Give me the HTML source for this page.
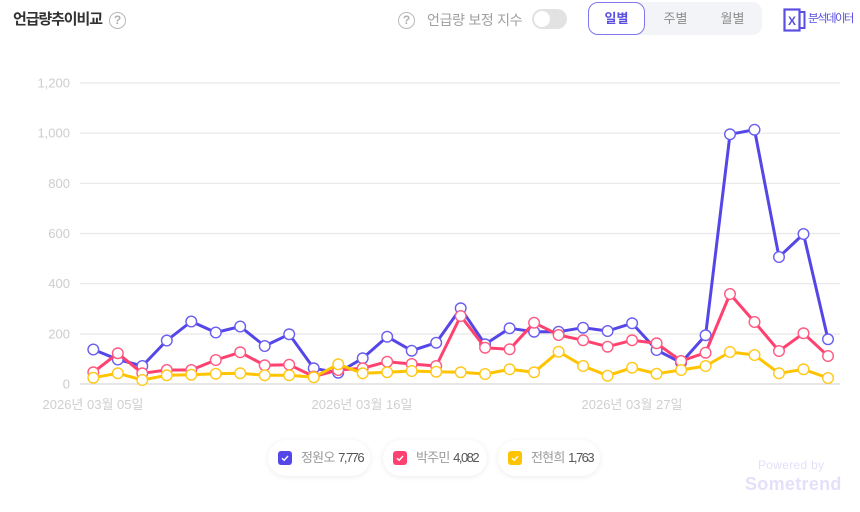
<!DOCTYPE html>
<html>
<head>
<meta charset="utf-8">
<style>
  html,body{margin:0;padding:0;background:#fff;}
  body{width:860px;height:512px;position:relative;overflow:hidden;font-family:"Liberation Sans","Noto Sans CJK KR",sans-serif;}
  .abs{position:absolute;}
  .title{left:13px;top:9px;font-size:15px;font-weight:bold;color:#333;letter-spacing:-1.1px;line-height:22px;}
  .q{width:15px;height:15px;border:1.8px solid #b8b8b8;border-radius:50%;color:#b0b0b0;font-size:12px;font-weight:bold;text-align:center;line-height:15px;}
  .lbl{left:427px;top:10px;font-size:14px;color:#a0a0a0;line-height:20px;letter-spacing:-0.3px;}
  .toggle{left:532px;top:9px;width:35px;height:20px;border-radius:10px;background:#e2e2e2;}
  .knob{left:2px;top:2px;width:16px;height:16px;border-radius:50%;background:#fff;}
  .seg{left:588px;top:2px;width:174px;height:33px;border-radius:10px;background:#f3f4f7;}
  .tab{top:0;height:33px;line-height:33px;font-size:13px;color:#8c8c8c;text-align:center;}
  .tab.active{left:0;width:55px;height:31px;line-height:31px;border:1.3px solid #8076f0;border-radius:10px;background:#fff;color:#5a4fe0;font-weight:bold;}
  .xl{left:808px;top:9px;font-size:11.5px;color:#5a4fe0;letter-spacing:-1.6px;line-height:20px;}
  .pill{top:440px;height:36px;border-radius:18px;background:#fff;box-shadow:0 1px 6px rgba(0,0,0,0.08);}
  .cb{position:absolute;left:10px;top:11px;width:14px;height:14px;border-radius:3px;}
  .pt{position:absolute;left:33px;top:9px;font-size:13px;line-height:18px;white-space:nowrap;}
  .pn{color:#9a9a9a;letter-spacing:-0.8px;}
  .pv{color:#555;letter-spacing:-1.5px;}
  .pw1{left:758px;top:458px;font-size:12px;color:#e4e0fa;letter-spacing:0.3px;}
  .pw2{left:745px;top:474px;font-size:18px;font-weight:bold;color:#e4e0fa;letter-spacing:0.3px;}
</style>
</head>
<body>
  <div class="abs title">언급량추이비교</div>
  <div class="abs q" style="left:109px;top:12px;">?</div>

  <div class="abs q" style="left:398px;top:12px;">?</div>
  <div class="abs lbl">언급량 보정 지수</div>
  <div class="abs toggle"><div class="abs knob"></div></div>

  <div class="abs seg">
    <div class="abs tab active">일별</div>
    <div class="abs tab" style="left:60px;width:55px;">주별</div>
    <div class="abs tab" style="left:117px;width:55px;">월별</div>
  </div>

  <svg class="abs" style="left:783px;top:8px;" width="24" height="24" viewBox="0 0 24 24">
    <rect x="1.5" y="1.5" width="15" height="21" fill="#fff" stroke="#5a4fe0" stroke-width="2.2"/>
    <path d="M17 4 L21.5 4 L21.5 20 L17 20" fill="none" stroke="#5a4fe0" stroke-width="2"/>
    <text x="9" y="17" text-anchor="middle" font-family="Liberation Sans, sans-serif" font-size="12" font-weight="bold" fill="#5a4fe0">X</text>
  </svg>
  <div class="abs xl">분석데이터</div>

  <svg class="abs" style="left:0;top:0;" width="860" height="430" viewBox="0 0 860 430">
    <defs>
      <marker id="mb" markerUnits="userSpaceOnUse" markerWidth="14" markerHeight="14" refX="7" refY="7" viewBox="0 0 14 14">
        <circle cx="7" cy="7" r="5.3" fill="#fff" stroke="#6a5ef0" stroke-width="1.4"/>
      </marker>
      <marker id="mr" markerUnits="userSpaceOnUse" markerWidth="14" markerHeight="14" refX="7" refY="7" viewBox="0 0 14 14">
        <circle cx="7" cy="7" r="5.3" fill="#fff" stroke="#ff5a82" stroke-width="1.4"/>
      </marker>
      <marker id="my" markerUnits="userSpaceOnUse" markerWidth="14" markerHeight="14" refX="7" refY="7" viewBox="0 0 14 14">
        <circle cx="7" cy="7" r="5.3" fill="#fff" stroke="#ffc81a" stroke-width="1.4"/>
      </marker>
    </defs>
    <g stroke="#e8e8e8" stroke-width="1.2">
      <line x1="80" y1="83" x2="840" y2="83"/>
      <line x1="80" y1="133.2" x2="840" y2="133.2"/>
      <line x1="80" y1="183.3" x2="840" y2="183.3"/>
      <line x1="80" y1="233.5" x2="840" y2="233.5"/>
      <line x1="80" y1="283.7" x2="840" y2="283.7"/>
      <line x1="80" y1="334" x2="840" y2="334"/>
    </g>
    <line x1="80" y1="384" x2="840" y2="384" stroke="#d6d6d6" stroke-width="1.2"/>
    <g font-family="Liberation Sans, sans-serif" font-size="13" fill="#cdcdcd" text-anchor="end">
      <text x="70" y="87.5">1,200</text>
      <text x="70" y="137.5">1,000</text>
      <text x="70" y="188">800</text>
      <text x="70" y="238">600</text>
      <text x="70" y="288">400</text>
      <text x="70" y="338.5">200</text>
      <text x="70" y="388.5">0</text>
    </g>
    <g font-family="Liberation Sans, Noto Sans CJK KR, sans-serif" font-size="13" fill="#cfcfcf" text-anchor="middle">
      <text x="93" y="409">2026년 03월 05일</text>
      <text x="362" y="409">2026년 03월 16일</text>
      <text x="632" y="409">2026년 03월 27일</text>
    </g>
    <polyline fill="none" stroke="#5546e8" stroke-width="3" stroke-linejoin="round" marker-start="url(#mb)" marker-mid="url(#mb)" marker-end="url(#mb)"
      points="93.3,349.5 117.8,359.5 142.3,366 166.8,340.5 191.3,321.5 215.8,332.5 240.2,326.5 264.7,346 289.2,334.3 313.7,368.3 338.2,372.7 362.7,358.3 387.2,336.7 411.7,350.7 436.2,342.7 460.7,308.3 485.1,344.3 509.6,328.3 534.1,331.7 558.6,331.7 583.1,327.7 607.6,331 632.1,323.3 656.6,350 681.1,362.7 705.6,335.3 730,134.3 754.5,129.7 779,257 803.5,234 828,339.3"/>
    <polyline fill="none" stroke="#ff4170" stroke-width="3" stroke-linejoin="round" marker-start="url(#mr)" marker-mid="url(#mr)" marker-end="url(#mr)"
      points="93.3,372.3 117.8,353.3 142.3,373.3 166.8,370 191.3,370 215.8,360 240.2,352.3 264.7,365.3 289.2,364.7 313.7,376.5 338.2,370 362.7,368.3 387.2,361.7 411.7,364 436.2,366 460.7,316 485.1,347.7 509.6,349.3 534.1,322.7 558.6,335 583.1,340.3 607.6,346.7 632.1,340.3 656.6,343.3 681.1,361 705.6,352.7 730,294 754.5,322 779,351 803.5,333.3 828,356"/>
    <polyline fill="none" stroke="#ffc400" stroke-width="3" stroke-linejoin="round" marker-start="url(#my)" marker-mid="url(#my)" marker-end="url(#my)"
      points="93.3,377.7 117.8,373.3 142.3,380 166.8,375.3 191.3,374.7 215.8,373.7 240.2,373.3 264.7,375.3 289.2,375.3 313.7,377.3 338.2,364.3 362.7,373.3 387.2,372.3 411.7,371 436.2,371.7 460.7,372.3 485.1,374 509.6,369.3 534.1,372.3 558.6,351.7 583.1,366 607.6,375.7 632.1,367.7 656.6,373.7 681.1,370 705.6,366 730,352 754.5,355 779,373.3 803.5,369.3 828,378"/>
  </svg>

  <div class="abs pill" style="left:268px;width:102px;">
    <div class="cb" style="background:#5546e8;"><svg width="14" height="14" viewBox="0 0 14 14"><path d="M4 7.2 L6.2 9.3 L10 5" fill="none" stroke="#fff" stroke-width="1.4"/></svg></div>
    <div class="pt"><span class="pn">정원오</span> <span class="pv">7,776</span></div>
  </div>
  <div class="abs pill" style="left:383px;width:104px;">
    <div class="cb" style="background:#ff4170;"><svg width="14" height="14" viewBox="0 0 14 14"><path d="M4 7.2 L6.2 9.3 L10 5" fill="none" stroke="#fff" stroke-width="1.4"/></svg></div>
    <div class="pt"><span class="pn">박주민</span> <span class="pv">4,082</span></div>
  </div>
  <div class="abs pill" style="left:498px;width:102px;">
    <div class="cb" style="background:#ffc400;"><svg width="14" height="14" viewBox="0 0 14 14"><path d="M4 7.2 L6.2 9.3 L10 5" fill="none" stroke="#fff" stroke-width="1.4"/></svg></div>
    <div class="pt"><span class="pn">전현희</span> <span class="pv">1,763</span></div>
  </div>

  <div class="abs pw1">Powered by</div>
  <div class="abs pw2">Sometrend</div>
</body>
</html>
